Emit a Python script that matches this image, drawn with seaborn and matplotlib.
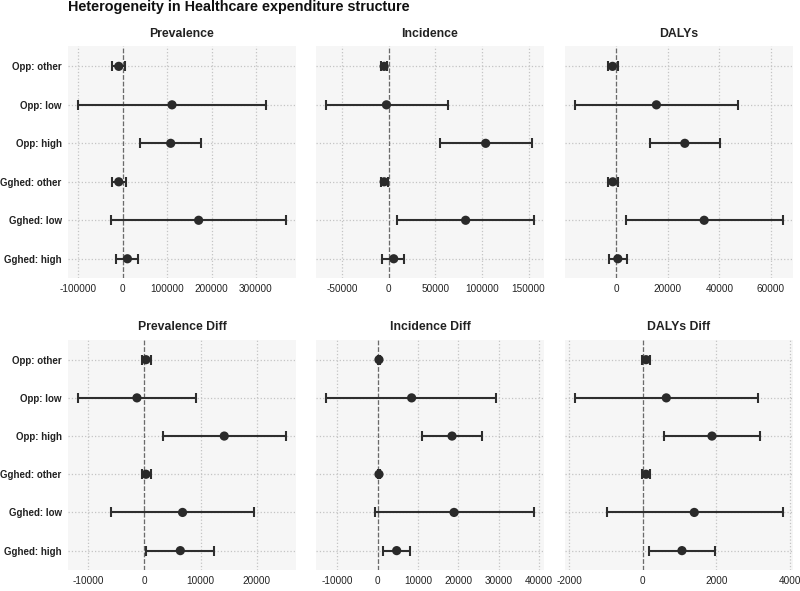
import numpy as np
import matplotlib
matplotlib.use("Agg")
import matplotlib.pyplot as plt
import seaborn as sns

# categorias (de arriba a abajo)
filas = ["Opp: other", "Opp: low", "Opp: high", "Gghed: other", "Gghed: low", "Gghed: high"]

# Prevalence
prev_est = [-9000, 111000, 108000, -9000, 171000, 10500]
prev_lo = [-24000, -100000, 39000, -24000, -27000, -15000]
prev_hi = [6000, 322000, 177000, 6500, 367000, 34500]

# Incidence
inc_est = [-5000, -2500, 104000, -5000, 82500, 5300]
inc_lo = [-8000, -67000, 54500, -8000, 9000, -7800]
inc_hi = [-1500, 63500, 154000, -1000, 155500, 16000]

# DALYs
daly_est = [-1400, 15600, 26600, -1300, 34100, 650]
daly_lo = [-3200, -15800, 13200, -3200, 4000, -2900]
daly_hi = [750, 47100, 40100, 750, 64500, 4100]

# Prevalence Diff
prevd_est = [300, -1300, 14200, 300, 6800, 6400]
prevd_lo = [-400, -11700, 3400, -400, -5900, 350]
prevd_hi = [1200, 9200, 25100, 1200, 19500, 12400]

# Incidence Diff
incd_est = [320, 8400, 18400, 320, 18900, 4700]
incd_lo = [100, -12700, 11000, 100, -750, 1300]
incd_hi = [550, 29400, 25800, 550, 38600, 8100]

# DALYs Diff
dalyd_est = [90, 640, 1880, 90, 1400, 1065]
dalyd_lo = [-25, -1830, 590, -25, -960, 170]
dalyd_hi = [210, 3120, 3190, 210, 3800, 1960]

# ticks de cada panel
ticks_prev = [-100000, 0, 100000, 200000, 300000]
ticks_inc = [-50000, 0, 50000, 100000, 150000]
ticks_daly = [0, 20000, 40000, 60000]
ticks_prevd = [-10000, 0, 10000, 20000]
ticks_incd = [-10000, 0, 10000, 20000, 30000, 40000]
ticks_dalyd = [-2000, 0, 2000, 4000]

paneles = [
    ("Prevalence", prev_est, prev_lo, prev_hi, ticks_prev),
    ("Incidence", inc_est, inc_lo, inc_hi, ticks_inc),
    ("DALYs", daly_est, daly_lo, daly_hi, ticks_daly),
    ("Prevalence Diff", prevd_est, prevd_lo, prevd_hi, ticks_prevd),
    ("Incidence Diff", incd_est, incd_lo, incd_hi, ticks_incd),
    ("DALYs Diff", dalyd_est, dalyd_lo, dalyd_hi, ticks_dalyd),
]

sns.set_theme(style="whitegrid")
plt.rcParams["font.family"] = ["Liberation Sans", "DejaVu Sans"]
plt.rcParams["axes.facecolor"] = "#F6F6F6"
plt.rcParams["grid.color"] = "#C4C4C4"
plt.rcParams["grid.linestyle"] = ":"
plt.rcParams["grid.linewidth"] = 0.9

fig = plt.figure(figsize=(8, 5.91), dpi=100)
lefts = [0.085, 0.395, 0.70625]
bottoms = [0.5296, 0.036]
w, h = 0.285, 0.389

for i, (titulo, est, lo, hi, ticks) in enumerate(paneles):
    fila, col = divmod(i, 3)
    ax = fig.add_axes([lefts[col], bottoms[fila], w, h if fila else 0.392])
    est, lo, hi = np.array(est), np.array(lo), np.array(hi)

    ax.errorbar(est, filas, xerr=[est - lo, hi - est], fmt="none",
                ecolor="#2e2e2e", elinewidth=1.5, capsize=3.5, capthick=1.5, zorder=3)
    sns.scatterplot(x=est, y=filas, ax=ax, color="#2a2a2a", s=44,
                    edgecolor="none", zorder=4)
    ax.axvline(0, color="#6a6a6a", ls="--", lw=0.9, zorder=2)

    rango = max(hi.max(), 0) - min(lo.min(), 0)
    ax.set_xlim(min(lo.min(), 0) - 0.05 * rango, max(hi.max(), 0) + 0.05 * rango)
    ax.set_ylim(len(filas) - 0.5, -0.52)
    ax.set_xticks(ticks)
    ax.set_xticklabels([str(t) for t in ticks])
    ax.set_xlabel("")
    ax.set_ylabel("")
    ax.tick_params(axis="x", length=0, pad=4.5, labelsize=7.2, labelcolor="#222222")
    ax.tick_params(axis="y", length=0, pad=4.5, labelsize=7.0, labelcolor="#222222")
    if col == 0:
        for lab in ax.get_yticklabels():
            lab.set_fontweight("bold")
    else:
        ax.set_yticklabels([])
    for s in ax.spines.values():
        s.set_visible(False)
    ax.set_title(titulo, fontsize=8.8, fontweight="bold", color="#222222", pad=7)

fig.text(0.085, 1 - 7 / 591, "Heterogeneity in Healthcare expenditure structure",
         fontsize=10.4, fontweight="bold", va="center", ha="left", color="#111111")

fig.savefig("out.png", dpi=100, facecolor="white")
